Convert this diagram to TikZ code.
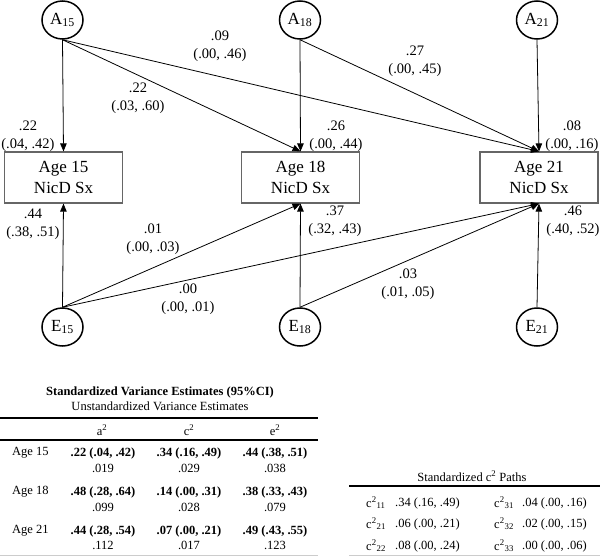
\documentclass[tikz,border=0pt]{standalone}
\usepackage{fontspec}
\setmainfont{Liberation Serif}
\usetikzlibrary{arrows.meta,shapes.geometric}

\tikzset{
  latent/.style={draw, ellipse, line width=1.5pt, inner sep=0pt, minimum width=41pt, minimum height=38pt, font=\fontsize{17}{20}\selectfont},
  obsbox/.style={draw=black!60, line width=1.2pt, minimum width=118pt, minimum height=51pt, align=center, font=\fontsize{17}{21}\selectfont},
  path/.style={line width=0.8pt, -{Triangle[length=8pt,width=6.5pt]}},
  est/.style={align=center, inner sep=0pt, font=\fontsize{14.5}{18}\selectfont},
  tab/.style={inner sep=0pt, font=\fontsize{12.5}{15}\selectfont},
}

\begin{document}
\begin{tikzpicture}[x=1pt,y=-1pt]
  \useasboundingbox (0,0) rectangle (600,557);

  %%%%% latent factors and phenotypes %%%%%
  \node[latent] (a15) at (62.5,20) {A\textsubscript{15}};
  \node[latent] (a18) at (300,20) {A\textsubscript{18}};
  \node[latent] (a21) at (537,20) {A\textsubscript{21}};

  \node[obsbox] (age15) at (63.5,177.5) {Age 15\\NicD Sx};
  \node[obsbox] (age18) at (300.5,177.5) {Age 18\\NicD Sx};
  \node[obsbox] (age21) at (539,177.5) {Age 21\\NicD Sx};

  \node[latent] (e15) at (62.5,327) {E\textsubscript{15}};
  \node[latent] (e18) at (300,327) {E\textsubscript{18}};
  \node[latent] (e21) at (537,327) {E\textsubscript{21}};

  %%%%% paths %%%%%
  \draw[path] (a15.south) -- (age15.north);
  \draw[path] (a15.south) -- (age18.north);
  \draw[path] (a15.south) -- (age21.north);
  \draw[path] (a18.south) -- (age18.north);
  \draw[path] (a18.south) -- (age21.north);
  \draw[path] (a21.south) -- (age21.north);

  \draw[path] (e15.north) -- (age15.south);
  \draw[path] (e15.north) -- (age18.south);
  \draw[path] (e15.north) -- (age21.south);
  \draw[path] (e18.north) -- (age18.south);
  \draw[path] (e18.north) -- (age21.south);
  \draw[path] (e21.north) -- (age21.south);

  %%%%% estimates %%%%%
  \node[est] (ea1511) at (28,136) {.22\\(.04, .42)};
  \node[est] (ea1518) at (138,98) {.22\\(.03, .60)};
  \node[est] (ea1521) at (220,46) {.09\\(.00, .46)};
  \node[est] (ea1818) at (336,136) {.26\\(.00, .44)};
  \node[est] (ea1821) at (415,61) {.27\\(.00, .45)};
  \node[est] (ea2121) at (572,136) {.08\\(.00, .16)};

  \node[est] (ee1515) at (33,224) {.44\\(.38, .51)};
  \node[est] (ee1518) at (153,239) {.01\\(.00, .03)};
  \node[est] (ee1521) at (188,299) {.00\\(.00, .01)};
  \node[est] (ee1818) at (335,221) {.37\\(.32, .43)};
  \node[est] (ee1821) at (408,284) {.03\\(.01, .05)};
  \node[est] (ee2121) at (573,221) {.46\\(.40, .52)};

  %%%%% variance table %%%%%
  \node[tab, font=\fontsize{12.5}{15}\bfseries] (vtitle) at (160,392) {Standardized Variance Estimates (95\%CI)};
  \node[tab] (vsub) at (160,406) {Unstandardized Variance Estimates};
  \draw[line width=1.2pt] (0,418) -- (318,418);
  \draw[line width=1.2pt] (0,440) -- (318,440);
  \draw[line width=1pt, black!20] (0,555) -- (318,555);

  \node[tab] (ha) at (102,430) {a\textsuperscript{2}};
  \node[tab] (hc) at (189,430) {c\textsuperscript{2}};
  \node[tab] (he) at (275,430) {e\textsuperscript{2}};

  \node[tab, anchor=west] (r15) at (12,453) {Age 15};
  \node[tab] (a2r15) at (103,453) {\bfseries .22 (.04, .42)};
  \node[tab] (c2r15) at (189,453) {\bfseries .34 (.16, .49)};
  \node[tab] (e2r15) at (275,453) {\bfseries .44 (.38, .51)};
  \node[tab] (ua2r15) at (103,468) {.019};
  \node[tab] (uc2r15) at (189,468) {.029};
  \node[tab] (ue2r15) at (275,468) {.038};

  \node[tab, anchor=west] (r18) at (12,492) {Age 18};
  \node[tab] (a2r18) at (103,492) {\bfseries .48 (.28, .64)};
  \node[tab] (c2r18) at (189,492) {\bfseries .14 (.00, .31)};
  \node[tab] (e2r18) at (275,492) {\bfseries .38 (.33, .43)};
  \node[tab] (ua2r18) at (103,507) {.099};
  \node[tab] (uc2r18) at (189,507) {.028};
  \node[tab] (ue2r18) at (275,507) {.079};

  \node[tab, anchor=west] (r21) at (12,531) {Age 21};
  \node[tab] (a2r21) at (103,531) {\bfseries .44 (.28, .54)};
  \node[tab] (c2r21) at (189,531) {\bfseries .07 (.00, .21)};
  \node[tab] (e2r21) at (275,531) {\bfseries .49 (.43, .55)};
  \node[tab] (ua2r21) at (103,545) {.112};
  \node[tab] (uc2r21) at (189,545) {.017};
  \node[tab] (ue2r21) at (275,545) {.123};

  %%%%% c2 paths table %%%%%
  \node[tab] (ctitle) at (472,476) {Standardized c\textsuperscript{2} Paths};
  \draw[line width=1.2pt] (349,486) -- (600,486);
  \draw[line width=1pt, black!20] (349,555) -- (600,555);

  \node[tab, anchor=west] (c11) at (366,503) {c\textsuperscript{2}\textsubscript{11}};
  \node[tab, anchor=west] (v11) at (395,503) {.34 (.16, .49)};
  \node[tab, anchor=west] (c31) at (494,503) {c\textsuperscript{2}\textsubscript{31}};
  \node[tab, anchor=west] (v31) at (522,503) {.04 (.00, .16)};
  \node[tab, anchor=west] (c21) at (366,524) {c\textsuperscript{2}\textsubscript{21}};
  \node[tab, anchor=west] (v21) at (395,524) {.06 (.00, .21)};
  \node[tab, anchor=west] (c32) at (494,524) {c\textsuperscript{2}\textsubscript{32}};
  \node[tab, anchor=west] (v32) at (522,524) {.02 (.00, .15)};
  \node[tab, anchor=west] (c22) at (366,546) {c\textsuperscript{2}\textsubscript{22}};
  \node[tab, anchor=west] (v22) at (395,546) {.08 (.00, .24)};
  \node[tab, anchor=west] (c33) at (494,546) {c\textsuperscript{2}\textsubscript{33}};
  \node[tab, anchor=west] (v33) at (522,546) {.00 (.00, .06)};
\end{tikzpicture}
\end{document}
